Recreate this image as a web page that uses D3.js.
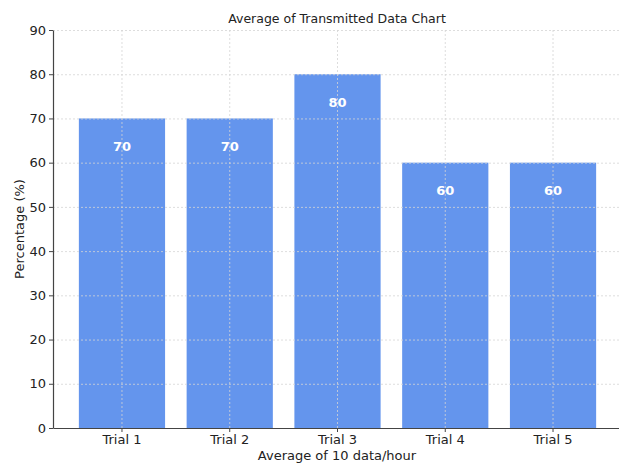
<!DOCTYPE html>
<html>
<head>
<meta charset="utf-8">
<script src="https://cdn.jsdelivr.net/npm/d3@7"></script>
<style>
    body { margin: 0; background: #fff; }
    text { font-family: "DejaVu Sans", sans-serif; }
</style>
</head>
<body>
<script>
// Chart data
var trials = ["Trial 1", "Trial 2", "Trial 3", "Trial 4", "Trial 5"];
var values = [70, 70, 80, 60, 60];
var yTicks = [0, 10, 20, 30, 40, 50, 60, 70, 80, 90];

function init() {
    var w = 619;
    var h = 464;
    var left = 53, right = 622, top = 30, bottom = 428;

    var svg = d3.select("body")
        .append("svg")
        .attr("width", w)
        .attr("height", h);

    var xScale = d3.scaleBand()
        .domain(trials)
        .range([left, right])
        .paddingInner(0.2)
        .paddingOuter(0.24);

    var yScale = d3.scaleLinear()
        .domain([0, 90])
        .range([bottom, top]);

    // Bars
    svg.selectAll(".bar")
        .data(values)
        .enter()
        .append("rect")
        .attr("class", "bar")
        .attr("x", function(d, i) { return xScale(trials[i]); })
        .attr("y", function(d) { return yScale(d); })
        .attr("width", xScale.bandwidth())
        .attr("height", function(d) { return yScale(0) - yScale(d); })
        .attr("fill", "#6495ED");

    // Grid lines (drawn over the bars)
    svg.selectAll(".hgrid")
        .data(yTicks.slice(1))
        .enter()
        .append("line")
        .attr("x1", left).attr("x2", right)
        .attr("y1", function(d) { return yScale(d) + 0.5; })
        .attr("y2", function(d) { return yScale(d) + 0.5; })
        .attr("stroke", "#d4d4d4")
        .attr("stroke-width", 0.8)
        .attr("stroke-dasharray", "2,2");

    svg.selectAll(".vgrid")
        .data(trials)
        .enter()
        .append("line")
        .attr("x1", function(d) { return xScale(d) + xScale.bandwidth() / 2; })
        .attr("x2", function(d) { return xScale(d) + xScale.bandwidth() / 2; })
        .attr("y1", top).attr("y2", bottom)
        .attr("stroke", "#d4d4d4")
        .attr("stroke-width", 0.8)
        .attr("stroke-dasharray", "2,2");

    // Value labels
    svg.selectAll(".label")
        .data(values)
        .enter()
        .append("text")
        .attr("x", function(d, i) { return xScale(trials[i]) + xScale.bandwidth() / 2; })
        .attr("y", function(d) { return yScale(d) + 28; })
        .attr("text-anchor", "middle")
        .attr("dominant-baseline", "central")
        .attr("fill", "white")
        .attr("font-weight", "bold")
        .attr("font-size", "13px")
        .text(function(d) { return d; });

    // Axes
    var xAxis = svg.append("g")
        .attr("transform", "translate(0," + bottom + ")")
        .call(d3.axisBottom(xScale).tickSize(4).tickPadding(3).tickSizeOuter(0));

    var yAxis = svg.append("g")
        .attr("transform", "translate(" + left + ",0)")
        .call(d3.axisLeft(yScale).tickValues(yTicks).tickSize(4).tickPadding(3).tickSizeOuter(0));

    [xAxis, yAxis].forEach(function(a) {
        a.select(".domain").attr("stroke", "#444").attr("stroke-width", 1.2);
        a.selectAll(".tick line").attr("stroke", "#444");
        a.selectAll(".tick text")
            .attr("fill", "#222")
            .attr("font-size", "13px")
            .attr("font-family", "DejaVu Sans, sans-serif");
    });

    // Title and axis labels
    svg.append("text")
        .attr("x", 337)
        .attr("y", 23)
        .attr("text-anchor", "middle")
        .attr("font-size", "12.5px")
        .attr("fill", "#222")
        .text("Average of Transmitted Data Chart");

    svg.append("text")
        .attr("x", 337)
        .attr("y", 460)
        .attr("text-anchor", "middle")
        .attr("font-size", "13px")
        .attr("fill", "#222")
        .text("Average of 10 data/hour");

    svg.append("text")
        .attr("transform", "translate(24," + ((top + bottom) / 2) + ") rotate(-90)")
        .attr("text-anchor", "middle")
        .attr("font-size", "13px")
        .attr("fill", "#222")
        .text("Percentage (%)");
}

window.onload = init;
</script>
</body>
</html>
